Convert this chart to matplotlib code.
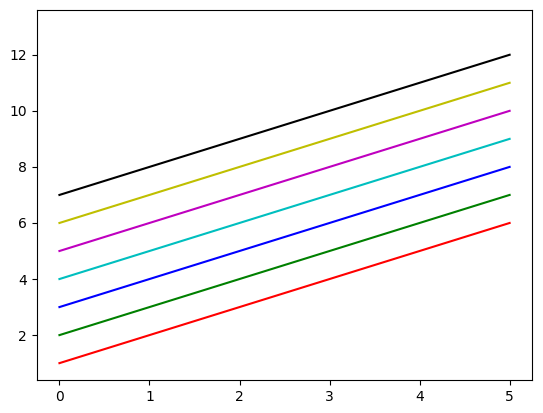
import numpy as np
import matplotlib
matplotlib.use("Agg")
import matplotlib.pyplot as plt

# Data: straight lines y = x + offset, one colour each (last one is white)
x = np.array([0, 5])
offsets = [1, 2, 3, 4, 5, 6, 7, 8]
colors = ["r", "g", "b", "c", "m", "y", "k", "w"]

fig = plt.figure(figsize=(5.43, 4.13), dpi=100)
ax = fig.add_axes([0.068, 0.08, 0.912, 0.896])

for off, c in zip(offsets, colors):
    ax.plot(x, x + off, c)

fig.savefig("out.png", dpi=100)
